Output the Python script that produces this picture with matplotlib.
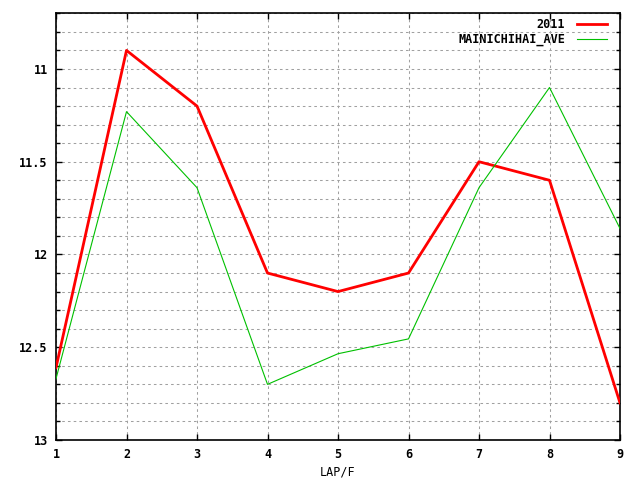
import numpy as np
import matplotlib
matplotlib.use("Agg")
import matplotlib.pyplot as plt
from matplotlib.ticker import MultipleLocator

plt.rcParams.update({
    "font.family": "DejaVu Sans Mono",
    "font.weight": "bold",
    "font.size": 8.5,
})

# data
laps = [1, 2, 3, 4, 5, 6, 7, 8, 9]
y_2011 = [12.61, 10.9, 11.2, 12.1, 12.2, 12.1, 11.5, 11.6, 12.8]
y_ave = [12.67, 11.23, 11.64, 12.70, 12.535, 12.455, 11.64, 11.10, 11.86]

fig = plt.figure(figsize=(6.4, 4.8), dpi=100)
ax = fig.add_axes([56/640, 40/480, 564/640, 426.7/480])

ax.plot(laps, y_2011, color="#ff0000", linewidth=2.0, label="2011", zorder=3)
ax.plot(laps, y_ave, color="#00c000", linewidth=0.8, label="MAINICHIHAI_AVE", zorder=3)

ax.set_xlim(1, 9)
ax.set_ylim(13, 10.7)
ax.xaxis.set_major_locator(MultipleLocator(1))
ax.yaxis.set_minor_locator(MultipleLocator(0.1))
ax.set_yticks([11, 11.5, 12, 12.5, 13])
ax.set_yticklabels(["11", "11.5", "12", "12.5", "13"])

grid_kw = dict(color="#a0a0a0", linestyle=(0, (2.5, 3)), linewidth=0.75)
ax.grid(True, axis="x", which="major", **grid_kw)
ax.grid(True, axis="y", which="both", **grid_kw)
ax.set_axisbelow(True)

ax.tick_params(which="major", direction="in", top=True, right=True, length=4.5, width=1, labelsize=8.5, pad=6)
ax.tick_params(which="minor", direction="in", left=True, right=True, length=3, width=1)
for s in ax.spines.values():
    s.set_linewidth(1.2)

ax.set_xlabel("LAP/F", fontsize=8.5, labelpad=3)

ax.legend(loc="upper right", bbox_to_anchor=(0.986, 1.0), frameon=False, markerfirst=False,
          handlelength=2.6, fontsize=8.5, borderaxespad=0.1, borderpad=0.3,
          labelspacing=0.15, handletextpad=1.0)

fig.savefig("out.png", dpi=100)
